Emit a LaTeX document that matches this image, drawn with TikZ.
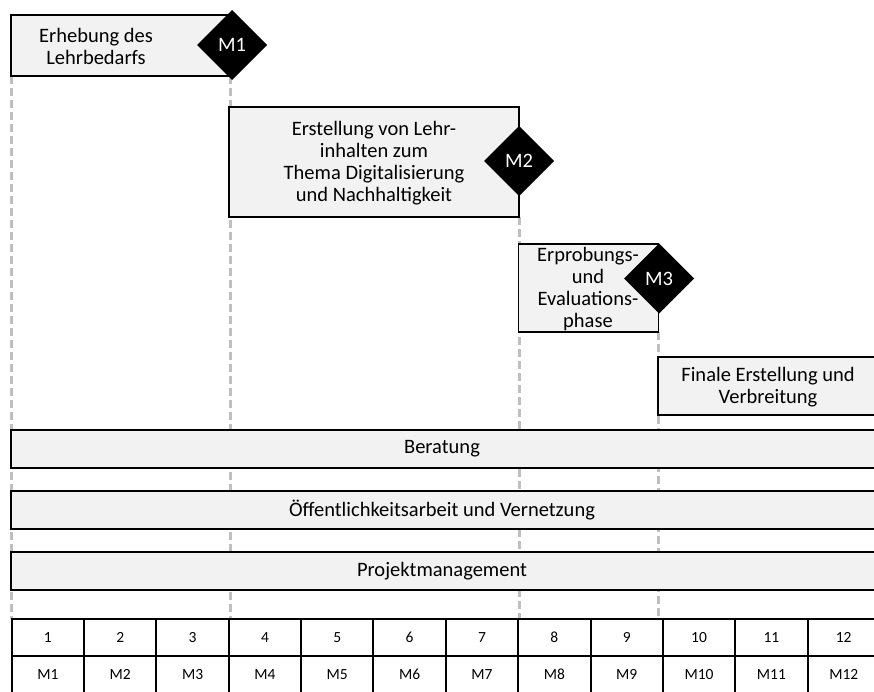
\documentclass[tikz,border=0pt]{standalone}
\usepackage{fontspec}
\setmainfont{Carlito}
\usetikzlibrary{shapes.geometric,backgrounds}
\begin{document}
\begin{tikzpicture}[x=1pt,y=-1pt,
  box/.style={draw=black, line width=1.8pt, fill=black!5, inner sep=0pt, outer sep=0pt, anchor=north west},
  lbl/.style={align=center, font=\fontsize{20.5}{22}\selectfont, inner sep=0pt},
  ms/.style={diamond, fill=black, text=white, minimum width=70pt, minimum height=70pt, inner sep=0pt, outer sep=0pt, aspect=1, font=\fontsize{20.5}{22}\selectfont},
  guide/.style={draw=black!25, line width=3pt, dash pattern=on 8pt off 4pt},
  cell/.style={draw=black, line width=2pt, minimum width=72.35pt, minimum height=37pt, inner sep=0pt, outer sep=0pt, anchor=north west, font=\fontsize{15.5}{17}\selectfont}]
\useasboundingbox (0,0) rectangle (874,691);

% phase boxes
\node[box, minimum width=219pt, minimum height=61pt] (b1) at (11,15) {};
\node[lbl] (t1) at (96,46) {Erhebung des\\Lehrbedarfs};
\node[ms] (m1) at (232,45) {M1};

\node[box, minimum width=290pt, minimum height=110pt] (b2) at (229,107) {};
\node[lbl] (t2) at (374,163) {Erstellung von Lehr-\\inhalten zum\\Thema Digitalisierung\\und Nachhaltigkeit};
\node[ms] (m2) at (519,161) {M2};

\node[box, minimum width=140pt, minimum height=88pt] (b3) at (518.5,244) {};
\node[lbl] (t3) at (588,289) {Erprobungs-\\und\\Evaluations-\\phase};
\node[ms] (m3) at (659,278.5) {M3};

\node[box, minimum width=222pt, minimum height=58pt] (b4) at (658,357) {};
\node[lbl] (t4) at (768,387) {Finale Erstellung und\\Verbreitung};

% continuous bars
\node[box, minimum width=869pt, minimum height=38pt] (r1) at (11,430) {};
\node[lbl] (tr1) at (442,449) {Beratung};
\node[box, minimum width=869pt, minimum height=38pt] (r2) at (11,491) {};
\node[lbl] (tr2) at (442,510) {Öffentlichkeitsarbeit und Vernetzung};
\node[box, minimum width=869pt, minimum height=38pt] (r3) at (11,552) {};
\node[lbl] (tr3) at (442,571) {Projektmanagement};

% month table
\foreach \i in {1,...,12} {
  \node[cell] (c\i) at ({11.7+72.35*(\i-1)},619) {\i};
  \node[cell] (d\i) at ({11.7+72.35*(\i-1)},656) {M\i};
}

% guide lines
\begin{pgfonlayer}{background}
  \draw[guide] (b1.south west) -- (b1.south west |- c1.north);
  \draw[guide] (b1.south east) -- (b1.south east |- c4.north);
  \draw[guide] (b2.south east) -- (b2.south east |- c8.north);
  \draw[guide] (b3.south east) -- (b3.south east |- c10.north);
\end{pgfonlayer}
\end{tikzpicture}
\end{document}
